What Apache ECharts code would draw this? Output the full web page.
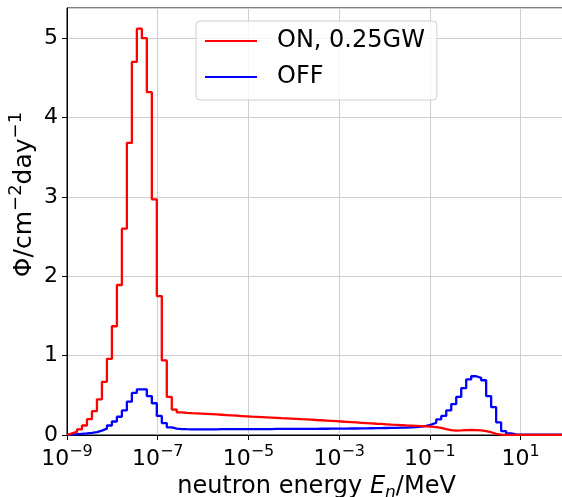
<!DOCTYPE html>
<html>
<head>
<meta charset="utf-8">
<script src="https://cdn.jsdelivr.net/npm/echarts@6/dist/echarts.min.js"></script>
<style>
  html, body { margin: 0; padding: 0; background: #fff; }
  #chart { width: 562px; height: 497px; }
</style>
</head>
<body>
<div id="chart"></div>
<script>
// histogram binning: 100 log bins from 1e-9 to 1e2 MeV (axis runs in log10 E)
const nBins = 100;
const expMin = -9;
const expMax = 2;
const tickExps = [-9, -7, -5, -3, -1, 1];
const yTicks = [0, 1, 2, 3, 4, 5];

// reactor ON, 0.25GW
const onValues = [
  0.02, 0.04, 0.07, 0.12, 0.20, 0.30, 0.45, 0.67, 0.96, 1.37,
  1.89, 2.60, 3.68, 4.70, 5.12, 5.00, 4.32, 2.97, 1.75, 0.94,
  0.48, 0.32, 0.285, 0.279, 0.275, 0.272, 0.269, 0.266, 0.263, 0.259,
  0.255, 0.251, 0.247, 0.243, 0.239, 0.235, 0.231, 0.228, 0.225, 0.222,
  0.219, 0.216, 0.212, 0.209, 0.206, 0.203, 0.199, 0.196, 0.193, 0.189,
  0.186, 0.182, 0.178, 0.174, 0.170, 0.166, 0.162, 0.158, 0.154, 0.150,
  0.146, 0.142, 0.139, 0.135, 0.131, 0.128, 0.125, 0.121, 0.118, 0.115,
  0.112, 0.109, 0.105, 0.100, 0.090, 0.075, 0.062, 0.056, 0.058, 0.062,
  0.063, 0.062, 0.058, 0.050, 0.035, 0.015, 0.005, 0.002, 0.002, 0.002,
  0.002, 0.002, 0.002, 0.002, 0.002, 0.002, 0.002, 0.002, 0.002, 0.002
];

// reactor OFF
const offValues = [
  0.008, 0.010, 0.015, 0.020, 0.027, 0.037, 0.055, 0.080, 0.120, 0.170,
  0.230, 0.310, 0.420, 0.530, 0.575, 0.575, 0.490, 0.400, 0.240, 0.150,
  0.095, 0.080, 0.075, 0.073, 0.072, 0.072, 0.072, 0.072, 0.072, 0.072,
  0.073, 0.073, 0.073, 0.073, 0.074, 0.074, 0.074, 0.074, 0.075, 0.075,
  0.075, 0.076, 0.076, 0.076, 0.077, 0.077, 0.077, 0.078, 0.078, 0.078,
  0.079, 0.079, 0.080, 0.080, 0.081, 0.081, 0.082, 0.082, 0.083, 0.084,
  0.085, 0.086, 0.087, 0.088, 0.089, 0.090, 0.092, 0.094, 0.097, 0.100,
  0.105, 0.115, 0.130, 0.155, 0.197, 0.240, 0.310, 0.390, 0.480, 0.590,
  0.700, 0.740, 0.720, 0.690, 0.490, 0.350, 0.160, 0.050, 0.020, 0.008,
  0.004, 0.004, 0.004, 0.004, 0.004, 0.004, 0.004, 0.004, 0.004, 0.004
];

// bin edges (log10 of energy)
const edges = [];
for (let i = 0; i <= nBins; i++) {
  edges.push(expMin + (expMax - expMin) * i / nBins);
}

function stepData(values) {
  // like histtype='step': start from 0 at first edge, hold value over each bin
  const pts = [[edges[0], 0]];
  for (let i = 0; i < values.length; i++) {
    pts.push([edges[i], values[i]]);
  }
  pts.push([edges[nBins], values[values.length - 1]]);
  return pts;
}

const font = "'DejaVu Sans', sans-serif";
const gridColor = '#cfcfcf';

const myChart = echarts.init(document.getElementById('chart'));

const option = {
  animation: false,
  backgroundColor: '#fff',
  textStyle: { fontFamily: font },
  grid: {
    left: 67,
    right: -4,
    top: 8,
    bottom: 62,
    outerBoundsMode: 'none',
    containLabel: false,
    show: true,
    borderColor: '#000',
    borderWidth: 1,
    backgroundColor: 'transparent'
  },
  legend: {
    orient: 'vertical',
    left: 196,
    top: 21,
    padding: [8, 12, 11, 9],
    itemGap: 12,
    itemWidth: 52,
    itemHeight: 2,
    icon: 'rect',
    backgroundColor: 'rgba(255,255,255,0.8)',
    borderColor: '#d0d0d0',
    borderWidth: 1,
    borderRadius: 4,
    textStyle: {
      fontFamily: font,
      fontSize: 24,
      color: '#000',
      lineHeight: 24,
      padding: [0, 0, 0, 15]
    },
    data: ['ON, 0.25GW', 'OFF']
  },
  xAxis: [
    {
      type: 'value',
      min: expMin,
      max: expMax,
      interval: 1,
      name: '{t|neutron energy }{it|E}{sub|n}{t|/MeV}',
      nameLocation: 'middle',
      nameGap: 35,
      nameTextStyle: {
        fontFamily: font,
        fontSize: 24,
        color: '#000',
        rich: {
          t: { fontFamily: font, fontSize: 24, color: '#000', lineHeight: 30, verticalAlign: 'middle' },
          it: { fontFamily: font, fontSize: 24, fontStyle: 'italic', color: '#000', lineHeight: 30, verticalAlign: 'middle' },
          sub: { fontFamily: font, fontSize: 17, fontStyle: 'italic', color: '#000', verticalAlign: 'bottom', lineHeight: 17 }
        }
      },
      axisLine: { show: true, onZero: false, lineStyle: { color: '#000', width: 1 } },
      axisTick: { show: true, customValues: tickExps, length: 5, lineStyle: { color: '#000' } },
      axisLabel: {
        customValues: tickExps,
        margin: 9,
        color: '#000',
        formatter: function (v) {
          return '{b|10}{sup|' + (v < 0 ? '\u2212' : '') + Math.abs(v) + '}';
        },
        rich: {
          b: { fontFamily: font, fontSize: 22, color: '#000', lineHeight: 26, verticalAlign: 'bottom' },
          sup: { fontFamily: font, fontSize: 16, color: '#000', verticalAlign: 'top', lineHeight: 16 }
        }
      },
      splitLine: { show: false }
    },
    {
      // helper axis only for the vertical grid lines at 1e-7, 1e-5, ... (offset from 1e-9)
      type: 'value',
      position: 'bottom',
      min: 0,
      max: expMax - expMin,
      interval: 2,
      axisLine: { show: false },
      axisTick: { show: false },
      axisLabel: { show: false },
      splitLine: { show: true, lineStyle: { color: gridColor, width: 1 } }
    }
  ],
  yAxis: {
    type: 'value',
    min: 0,
    max: 5.38,
    interval: 1,
    name: '{b|\u03a6/cm}{sup|\u22122}{b|day}{sup|\u22121}',
    nameLocation: 'middle',
    nameRotate: 90,
    nameGap: 30,
    nameMoveOverlap: false,
    nameTextStyle: {
      fontFamily: font,
      fontSize: 25,
      color: '#000',
      padding: [0, 0, 0, 54],
      rich: {
        b: { fontFamily: font, fontSize: 25, color: '#000', lineHeight: 30, verticalAlign: 'bottom' },
        sup: { fontFamily: font, fontSize: 18, color: '#000', verticalAlign: 'top', lineHeight: 18 }
      }
    },
    axisLine: { show: true, onZero: false, lineStyle: { color: '#000', width: 1 } },
    axisTick: { show: true, length: 5, lineStyle: { color: '#000' } },
    axisLabel: {
      fontFamily: font,
      fontSize: 22,
      color: '#000',
      margin: 9,
      showMaxLabel: false,
      formatter: function (v) { return yTicks.indexOf(v) >= 0 ? String(v) : ''; }
    },
    splitLine: { show: true, lineStyle: { color: gridColor, width: 1 } }
  },
  series: [
    {
      name: 'ON, 0.25GW',
      type: 'line',
      step: 'end',
      symbol: 'none',
      color: '#ff0000',
      lineStyle: { color: '#ff0000', width: 2.3 },
      data: stepData(onValues),
      z: 3
    },
    {
      name: 'OFF',
      type: 'line',
      step: 'end',
      symbol: 'none',
      color: '#0000ff',
      lineStyle: { color: '#0000ff', width: 2.3 },
      data: stepData(offValues),
      z: 2
    }
  ]
};

myChart.setOption(option, true);
window.addEventListener('resize', function () {
  myChart.resize();
});
</script>
</body>
</html>
